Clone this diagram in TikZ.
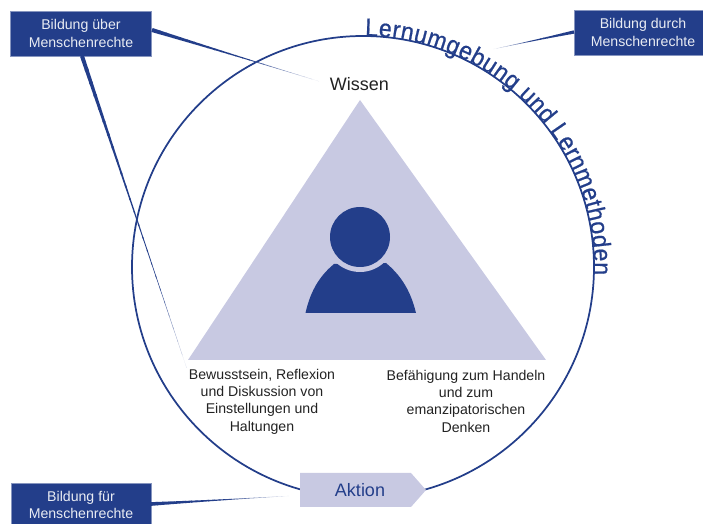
\documentclass[tikz,border=0pt]{standalone}
\usepackage{fontspec}
\setmainfont{Liberation Sans}
\newfontfamily\arcfamily[FakeStretch=0.92,FakeBold=0.7]{Liberation Sans}
\usetikzlibrary{calc,decorations.text}
\definecolor{navy}{HTML}{233E8A}
\definecolor{lilac}{HTML}{C8C9E2}
\definecolor{ink}{HTML}{222222}
\newcommand{\arctextfont}{\arcfamily\fontsize{18.8pt}{20pt}\selectfont\color{navy}}
\newcommand{\taper}[4]{% from, to, start half width in px, fade start percent
  \foreach \i in {0,...,23}{
    \pgfmathsetmacro{\ta}{\i/24}
    \pgfmathsetmacro{\tb}{(\i+1.15)/24}
    \pgfmathsetmacro{\wa}{0.75*(#3*(1-\ta)*(1-\ta)+0.15)}
    \pgfmathsetmacro{\wb}{0.75*(#3*(1-\tb)*(1-\tb)+0.15)}
    \pgfmathsetmacro{\mixv}{\ta*100<#4?100:100-(\ta*100-#4)/(100-#4)*95}
    \fill[navy!\mixv!white]
      ($(#1)!\ta!(#2)!\wa pt!90:(#2)$) -- ($(#1)!\tb!(#2)!\wb pt!90:(#2)$)
      -- ($(#1)!\tb!(#2)!\wb pt!-90:(#2)$) -- ($(#1)!\ta!(#2)!\wa pt!-90:(#2)$) -- cycle;
  }
}
\tikzset{
  x=0.75pt,y=0.75pt,
  framebox/.style={fill=navy,draw=navy!55!white,line width=0.4pt,text=white!90!navy,align=center,
    font=\fontsize{10.6pt}{13pt}\selectfont,inner sep=0pt,anchor=center},
  caption/.style={text=ink,align=center,font=\fontsize{10.6pt}{13pt}\selectfont,inner sep=0pt},
  ringline/.style={draw=navy,line width=1.3pt},
}
\begin{document}
\begin{tikzpicture}
\useasboundingbox (0,0) rectangle (703,524);
% ring
\draw[ringline] (363,257) circle[radius=231];
% triangle
\fill[lilac] (360,424) -- (188,164) -- (546,164) -- cycle;
% person
\fill[navy] (305.5,211) .. controls (311,236) and (322,250) .. (334,260)
  -- (386,261) .. controls (399,250) and (410,236) .. (416,211) -- cycle;
\fill[lilac] (360,287) circle[radius=35];
\fill[navy] (360,287) circle[radius=30];
% boxes
\node[framebox,minimum width=105.4pt,minimum height=33.75pt] (ueber) at (81,490.5) {Bildung über\\Menschenrechte};
\node[framebox,minimum width=103.5pt,minimum height=33.75pt] (durch) at (643,491.5) {Bildung durch\\Menschenrechte};
\node[framebox,minimum width=105pt,minimum height=33pt] (fuer) at (81,19) {Bildung für\\Menschenrechte};
% labels
\node[caption,font=\fontsize{13.5pt}{16pt}\selectfont] (wissen) at (359.5,439.5) {Wissen};
\node[caption] (bewusst) at (262,122.5) {Bewusstsein, Reflexion\\und Diskussion von\\Einstellungen und\\Haltungen};
\node[caption] (befaehig) at (466,123) {Befähigung zum Handeln\\und zum\\emanzipatorischen\\Denken};
% action
\fill[lilac] (300,51) -- (411,51) -- (426,34) -- (411,17) -- (300,17) -- cycle;
\node[text=navy,font=\fontsize{13.5pt}{16pt}\selectfont,inner sep=0pt] (aktion) at (360,34) {Aktion};
% connectors
\coordinate (a1) at (152,494);
\coordinate (a2) at (318,443);
\coordinate (b1) at (82,468);
\coordinate (b2) at (186,158);
\coordinate (c1) at (574,492);
\coordinate (c2) at (494,475);
\coordinate (d1) at (151,20);
\coordinate (d2) at (288,28);
\taper{a1}{a2}{1.9}{55}
\taper{b1}{b2}{1.9}{70}
\taper{c1}{c2}{1.5}{50}
\taper{d1}{d2}{1.7}{50}
% curved title
\path[decorate,decoration={text along path,text align={fit to path},
  text={|\arctextfont|Lernumgebung und Lernmethoden}}]
  (365,488) arc[start angle=89.5,end angle=-2,radius=231];
\end{tikzpicture}
\end{document}
